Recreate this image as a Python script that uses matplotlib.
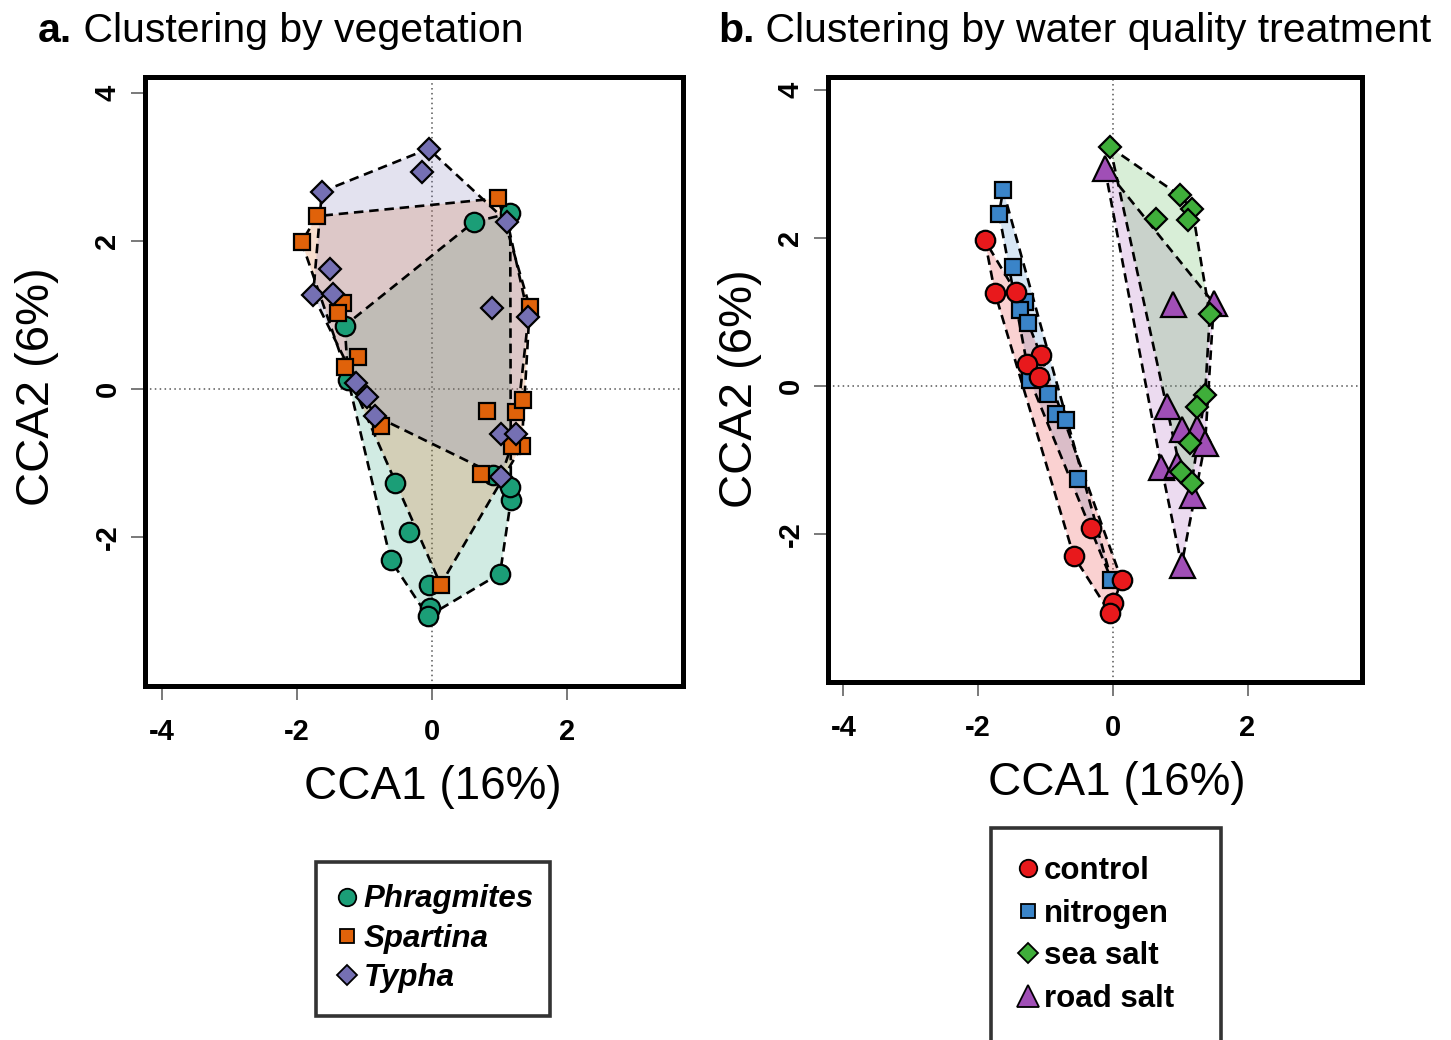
import numpy as np
import matplotlib
matplotlib.use("Agg")
import matplotlib.pyplot as plt
from matplotlib.lines import Line2D

plt.rcParams["font.family"] = ["Liberation Sans", "DejaVu Sans"]

# ── CCA site scores, panel a (grouped by vegetation) ─────────────────────
phrag_x = [0.62, 1.16, -1.29, -1.24, -0.55, -0.34, -0.61, -0.04, -0.03, -0.06,
           1.01, 1.17, 1.16, 0.90]
phrag_y = [2.26, 2.38, 0.86, 0.12, -1.26, -1.93, -2.31, -2.64, -2.95, -3.07,
           -2.49, -1.50, -1.32, -1.16]
spart_x = [-1.93, -1.70, 0.98, -1.32, -1.39, -1.10, -1.29, -0.76, 0.81, 1.24,
           1.35, 1.33, 1.19, 0.73, 0.13, 1.45]
spart_y = [1.99, 2.34, 2.58, 1.16, 1.03, 0.43, 0.30, -0.49, -0.30, -0.31,
           -0.15, -0.77, -0.76, -1.14, -2.64, 1.11]
typha_x = [-0.05, -0.14, -1.63, -1.51, -1.76, -1.46, 1.12, 0.89, 1.43, -1.12,
           -0.96, -0.84, 1.02, 1.24, 1.02]
typha_y = [3.25, 2.94, 2.67, 1.62, 1.27, 1.29, 2.26, 1.10, 0.98, 0.09,
           -0.10, -0.36, -0.60, -0.60, -1.19]

# ── panel b (grouped by water quality treatment) ─────────────────────────
ctrl_x = [-1.90, -1.75, -1.44, -1.07, -1.28, -1.10, -0.33, -0.58, 0.13, 0.00, -0.04]
ctrl_y = [1.97, 1.26, 1.27, 0.42, 0.30, 0.12, -1.92, -2.30, -2.62, -2.93, -3.07]
nitro_x = [-1.63, -1.69, -1.48, -1.31, -1.38, -1.26, -1.23, -0.96, -0.85, -0.70,
           -0.52, -0.02]
nitro_y = [2.65, 2.33, 1.61, 1.14, 1.03, 0.85, 0.08, -0.10, -0.37, -0.46,
           -1.25, -2.62]
sea_x = [-0.04, 0.99, 1.18, 0.64, 1.12, 1.44, 1.37, 1.25, 1.14, 1.01, 1.17]
sea_y = [3.23, 2.58, 2.39, 2.26, 2.25, 0.97, -0.12, -0.28, -0.77, -1.16, -1.31]
road_x = [-0.12, 0.90, 1.50, 0.80, 1.02, 1.25, 1.37, 0.72, 0.95, 1.17, 1.02]
road_y = [2.95, 1.11, 1.12, -0.27, -0.58, -0.57, -0.77, -1.09, -1.07, -1.47, -2.42]

veg_groups = [
    ("Phragmites", phrag_x, phrag_y, "#1b9e77", "o", 14),
    ("Spartina", spart_x, spart_y, "#e0620a", "s", 11.5),
    ("Typha", typha_x, typha_y, "#7570b3", "D", 10.8),
]
veg_legend_order = ["Phragmites", "Spartina", "Typha"]
trt_groups = [
    ("nitrogen", nitro_x, nitro_y, "#3a84c8", "s", 11.5),
    ("control", ctrl_x, ctrl_y, "#e8191c", "o", 14),
    ("road salt", road_x, road_y, "#a04fb6", "^", 18),
    ("sea salt", sea_x, sea_y, "#3fae3a", "D", 10.8),
]
trt_legend_order = ["control", "nitrogen", "sea salt", "road salt"]

X_TICKS = [-4, -2, 0, 2]
Y_TICKS = [-2, 0, 2, 4]
W, H = 1451, 1040


def convex_hull(xs, ys):
    """Monotone chain hull, returned as a closed list of points."""
    pts = sorted(set(zip(xs, ys)))

    def cross(o, a, b):
        return (a[0] - o[0]) * (b[1] - o[1]) - (a[1] - o[1]) * (b[0] - o[0])

    lower, upper = [], []
    for p in pts:
        while len(lower) >= 2 and cross(lower[-2], lower[-1], p) <= 0:
            lower.pop()
        lower.append(p)
    for p in reversed(pts):
        while len(upper) >= 2 and cross(upper[-2], upper[-1], p) <= 0:
            upper.pop()
        upper.append(p)
    hull = lower[:-1] + upper[:-1]
    hull.append(hull[0])
    return np.array(hull)


def draw_panel(ax, groups, xlim, ylim, ylabelpad, xlab_x, ylab_y):
    # filled hulls first, then their dashed outlines, then the points
    for _, xs, ys, col, _, _ in groups:
        h = convex_hull(xs, ys)
        ax.fill(h[:, 0], h[:, 1], facecolor=col, alpha=0.2, edgecolor="none", zorder=1)
    for _, xs, ys, _, _, _ in groups:
        h = convex_hull(xs, ys)
        ax.plot(h[:, 0], h[:, 1], color="black", lw=1.9, dashes=(3.6, 2.2), zorder=2)

    ax.axhline(0, color="#555555", lw=1.1, ls=(0, (1, 2.2)), zorder=0.5)
    ax.axvline(0, color="#555555", lw=1.1, ls=(0, (1, 2.2)), zorder=0.5)

    for _, xs, ys, col, mk, ms in groups:
        ax.plot(xs, ys, ls="none", marker=mk, ms=ms, mfc=col, mec="black",
                mew=1.6, zorder=3)

    ax.set_xlim(*xlim)
    ax.set_ylim(*ylim)
    ax.set_xticks(X_TICKS, labels=[str(t) for t in X_TICKS], fontweight="bold",
                  fontsize=21)
    ax.set_yticks(Y_TICKS, labels=[str(t) for t in Y_TICKS], fontweight="bold",
                  fontsize=21, rotation=90, va="center")
    ax.tick_params(direction="out", length=10, width=1.1, color="#555555")
    ax.tick_params(axis="x", pad=13)
    ax.tick_params(axis="y", pad=7)
    for sp in ax.spines.values():
        sp.set_linewidth(3.6)
    ax.set_xlabel("CCA1 (16%)", fontsize=33, labelpad=14)
    ax.set_ylabel("CCA2 (6%)", fontsize=34, labelpad=ylabelpad)
    ax.xaxis.label.set_x(xlab_x)
    ax.yaxis.label.set_y(ylab_y)


fig = plt.figure(figsize=(W / 100, H / 100), dpi=100)
ax_a = fig.add_axes([145 / W, 1 - 686 / H, 538 / W, 609 / H])
ax_b = fig.add_axes([828 / W, 1 - 682 / H, 534 / W, 605 / H])

draw_panel(ax_a, veg_groups, (-4.25, 3.72), (-4.01, 4.22), 25, 0.535, 0.491)
draw_panel(ax_b, trt_groups, (-4.23, 3.70), (-4.00, 4.18), 10, 0.541, 0.484)

# panel titles: bold letter followed by regular text
for x0, letter, rest in [(38, "a.", " Clustering by vegetation"),
                         (718, "b.", " Clustering by water quality treatment")]:
    t = fig.text(x0 / W, 1 - 42 / H, letter, fontsize=29.5, fontweight="bold",
                 va="baseline", ha="left")
    ax_a.annotate(rest, xy=(1, 0), xycoords=t, fontsize=29.5, va="bottom",
                  ha="left", annotation_clip=False)


def legend_handles(groups, order, size_scale):
    lookup = {g[0]: g for g in groups}
    handles = []
    for name in order:
        _, _, _, col, mk, ms = lookup[name]
        handles.append(Line2D([], [], ls="none", marker=mk, ms=ms * size_scale,
                              mfc=col, mec="black", mew=1.3))
    return handles


leg_a = fig.legend(legend_handles(veg_groups, veg_legend_order, 0.9),
                   veg_legend_order, loc="upper left", mode="expand",
                   bbox_to_anchor=(316 / W, 1 - 872 / H, 234 / W, 10 / H),
                   borderaxespad=0, fancybox=False, edgecolor="black",
                   handlelength=0.55, handletextpad=0.25, borderpad=0.72,
                   labelspacing=0.3, prop=dict(size=22.5, weight="bold", style="italic"))
leg_a.get_frame().set_linewidth(2.6)

leg_b = fig.legend(legend_handles(trt_groups, trt_legend_order, 0.9),
                   trt_legend_order, loc="upper left", mode="expand",
                   bbox_to_anchor=(991 / W, 1 - 838 / H, 230 / W, 10 / H),
                   borderaxespad=0, fancybox=False, edgecolor="black",
                   handlelength=0.55, handletextpad=0.25, borderpad=0.9,
                   labelspacing=0.4, prop=dict(size=22.5, weight="bold"))
leg_b.get_frame().set_linewidth(2.6)

fig.savefig("out.png", dpi=100)
